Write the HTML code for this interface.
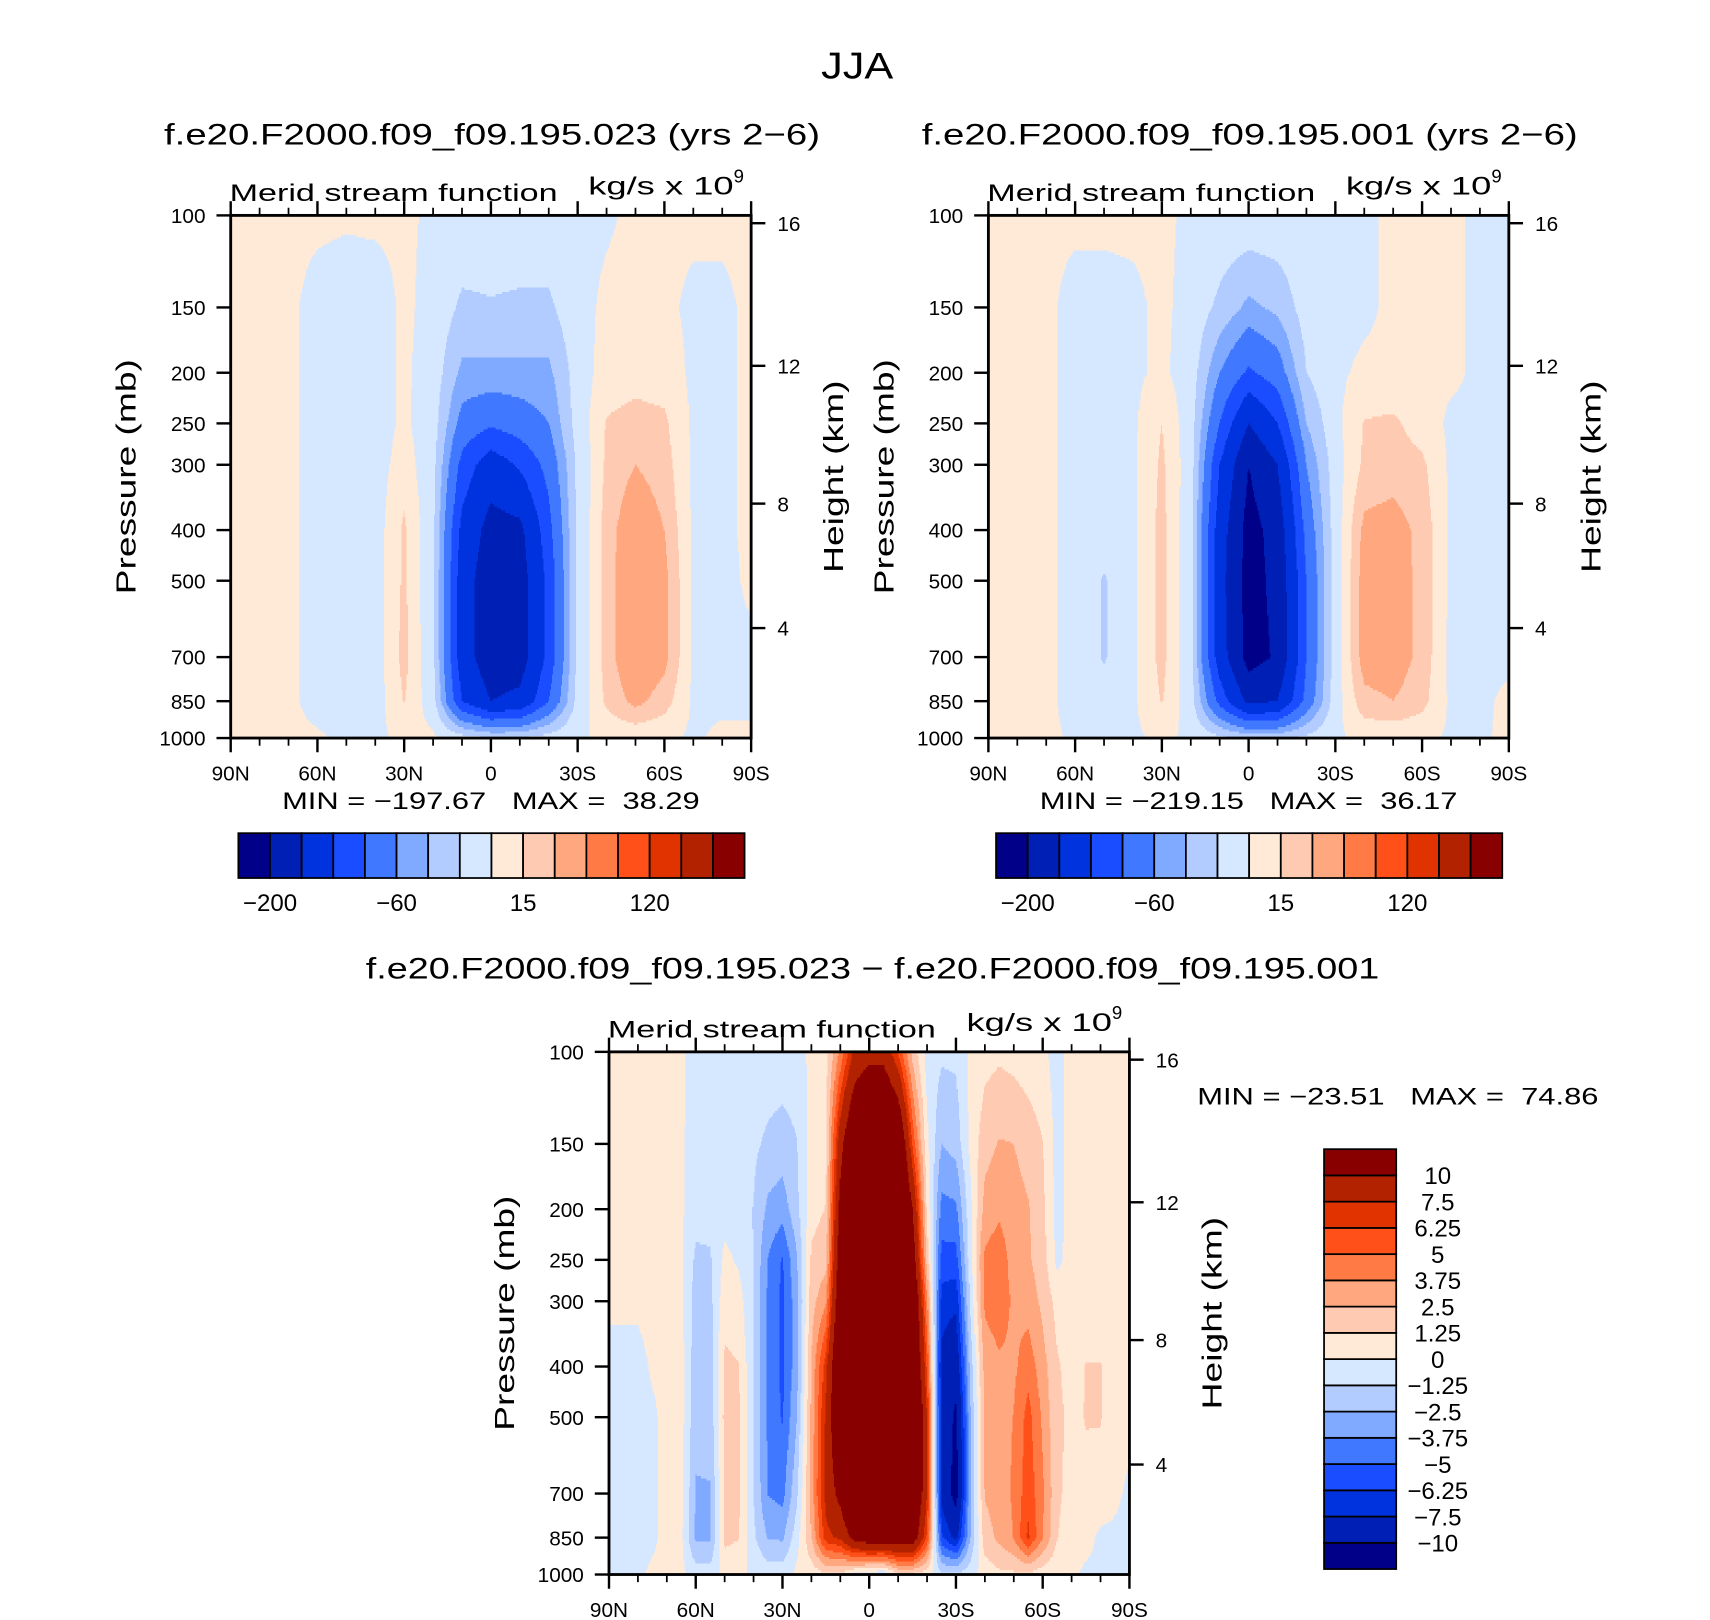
<!DOCTYPE html>
<html><head><meta charset="utf-8"><title>JJA Merid stream function</title>
<style>
html,body{margin:0;padding:0;background:#fff;}
svg{display:block;}
text{font-family:"Liberation Sans","DejaVu Sans",sans-serif;fill:#000;}
</style></head>
<body>
<svg id="fig" xmlns="http://www.w3.org/2000/svg" width="1710" height="1620" viewBox="0 0 1564 1481.6" preserveAspectRatio="none">
  <text x="784" y="72" font-size="34" text-anchor="middle" textLength="66" lengthAdjust="spacingAndGlyphs">JJA</text>
  <g id="panelA"></g>
  <g id="panelB"></g>
  <g id="panelC"></g>
</svg>
<script>
// ---------- data ----------
const PLEV = [100,150,200,250,300,400,500,700,850,1000];
const LAT10 = [90,80,70,60,50,40,30,20,10,0,-10,-20,-30,-40,-50,-60,-70,-80,-90];
const LAT5 = [90,85,80,75,70,65,60,55,50,45,40,35,30,25,20,15,10,5,0,-5,-10,-15,-20,-25,-30,-35,-40,-45,-50,-55,-60,-65,-70,-75,-80,-85,-90];
const LEVELS_AB = [-200,-160,-120,-90,-60,-40,-20,0,15,30,60,90,120,160,200];
const LEVELS_C = [-10,-7.5,-6.25,-5,-3.75,-2.5,-1.25,0,1.25,2.5,3.75,5,6.25,7.5,10];
const COLORS = ["#000088","#001fb5","#0033dd","#1a4dff","#4078ff","#80aaff","#b3ccff","#d6e8ff","#ffe9d7","#ffcab2","#ffa880","#ff7a45","#ff5019","#e03300","#b32200","#880000"];
const LABELS_AB = ["−200","−60","15","120"];
const LABEL_AB_IDX = [0,4,8,12];
const LABELS_C = ["−10","−7.5","−6.25","−5","−3.75","−2.5","−1.25","0","1.25","2.5","3.75","5","6.25","7.5","10"];
const PTICKS = [100,150,200,250,300,400,500,700,850,1000];
const HTICKS = [4,8,12,16];
const HTICK_P = [616,356,194,103.5];
const LAT_MAJOR = [90,60,30,0,-30,-60,-90];
const LAT_LABELS = ["90N","60N","30N","0","30S","60S","90S"];
const LAT_MINOR = [80,70,50,40,20,10,-10,-20,-40,-50,-70,-80];

// panel A (rows = pressure levels, cols = LAT10)
const psiA = [
 [3,3,3,3,2,3,3,-3,-5,-5,-5,-5,-5,-2,3,3,3,3,3],
 [3,3,3,-5,-8,-8,3,-5,-24,-22,-24,-24,-5,3,5,3,-3,-3,3],
 [3,3,3,-5,-8,-8,3,-8,-45,-45,-45,-45,-10,8,10,8,-3,-3,3],
 [3,3,3,-5,-8,-8,3,-10,-70,-85,-75,-60,-10,16,20,18,-3,-3,3],
 [3,3,3,-5,-8,-8,8,-12,-100,-140,-115,-80,-15,18,30,22,-3,-3,3],
 [3,3,3,-5,-8,-8,18,-15,-130,-175,-170,-100,-15,22,45,30,-3,-3,3],
 [3,3,3,-5,-8,-8,18,-15,-140,-185,-180,-110,-15,22,48,35,-3,-5,3],
 [3,3,3,-5,-8,-8,20,-15,-140,-185,-180,-110,-15,22,48,35,-3,-5,-3],
 [3,3,3,-5,-8,-8,16,-10,-120,-160,-150,-90,-12,18,35,22,-3,-3,-3],
 [3,3,3,2,-3,-3,3,3,-10,-20,-20,-10,-2,3,3,2,-2,3,3]
];
// panel B
const psiB = [
 [3,3,3,3,3,3,3,-3,-5,-5,-5,-5,-5,-3,3,3,3,-3,-3],
 [3,3,3,-5,-5,-3,3,-5,-25,-45,-35,-10,-5,-3,3,3,3,-3,-3],
 [3,3,3,-5,-5,-3,3,-8,-60,-95,-75,-20,-3,3,3,3,3,-3,-3],
 [3,3,3,-5,-5,-3,15,-10,-90,-160,-120,-40,-5,16,18,8,-3,-3,-3],
 [3,3,3,-5,-5,-3,18,-10,-120,-200,-160,-60,-8,18,22,18,-3,-3,-3],
 [3,3,3,-5,-10,-3,20,-12,-140,-215,-185,-80,-10,35,38,25,-3,-3,-3],
 [3,3,3,-5,-22,-3,20,-12,-145,-215,-190,-90,-10,38,40,25,-3,-3,-3],
 [3,3,3,-5,-22,-3,20,-12,-140,-215,-195,-90,-10,38,40,25,-5,-3,-3],
 [3,3,3,-5,-10,-3,16,-10,-100,-170,-160,-80,-8,25,30,20,-3,-3,3],
 [3,3,3,-2,-3,-2,2,-2,-15,-25,-25,-15,-2,3,3,3,-2,-2,3]
];
// panel C difference (one entry per LAT5 latitude, values at PLEV)
const diffByLat = [
 [0.5,0.5,0.5,0.5,0.3,-0.5,-0.5,-0.5,-0.5,-0.3],
 [0.5,0.5,0.5,0.5,0.3,-0.5,-0.5,-0.5,-0.5,-0.3],
 [0.5,0.5,0.5,0.5,0.3,-0.5,-0.5,-0.5,-0.5,-0.3],
 [0.5,0.5,0.5,0.5,0.5,0.2,-0.3,-0.3,-0.3,0.3],
 [0.5,0.5,0.5,0.5,0.5,0.5,0.5,0.5,0.5,0.3],
 [0.2,0.2,0.2,0.2,0.3,0.5,0.5,0.4,0.3,0.3],
 [-0.5,-0.6,-0.8,-1.5,-1.8,-2.0,-2.2,-2.6,-2.8,-0.6],
 [-0.5,-0.6,-0.8,-1.4,-1.6,-1.8,-2.0,-2.6,-2.7,-0.6],
 [-0.5,-0.6,-0.5,0.3,0.8,1.5,1.6,1.6,1.6,0.3],
 [-0.5,-0.6,-0.5,-0.2,0.5,1.3,1.4,1.4,1.3,0.3],
 [-0.5,-1.0,-1.3,-1.3,-1.3,-1.3,-1.3,-1.3,-1.0,-0.3],
 [-0.5,-1.5,-2.8,-3.8,-4,-4,-4,-3.8,-2.6,-0.5],
 [-0.5,-1.8,-3.2,-5.1,-5.3,-5.3,-5.1,-4.2,-2.7,-0.5],
 [-0.5,-1.3,-1.6,-2.6,-3,-3,-2.5,-1.5,-0.5,0.3],
 [0.3,0.5,0.8,1.5,2,2.6,2.8,3,2.5,0.5],
 [0.8,1,1.3,2,3.5,7,7.8,8,7,1],
 [4,9,11,12,13,14,14,11,7.8,1],
 [8,14,16,16,16,16,16,16,11,-0.5],
 [9,16,18,18,18,18,18,18,12,-1],
 [9,16,18,18,18,18,18,18,12,-1.3],
 [6,14,16,16,16,16,16,16,12,1],
 [2,6,10,12,14,15,16,15,12,1],
 [-0.5,0.3,1,2,4,6,7.5,7.5,6,0.5],
 [-1,-2.5,-4.2,-5.5,-6.8,-8,-8,-8,-6,-1],
 [-1,-2,-4,-5.5,-7.2,-9,-10.5,-11,-8,-1],
 [0.3,0.3,-0.3,-0.5,-1,-2,-2.6,-2.6,-2.5,-0.5],
 [0.8,2,3,4,4,3,2.8,2.6,2,0.5],
 [1,2.6,3.5,4.5,4.5,3.5,3.2,3,2.8,1],
 [0.8,2.5,3,3.2,3.5,3.5,3.8,4,3.8,1],
 [0.5,2,2.6,2.7,3.2,4.5,5.5,5.8,6.5,1],
 [0.3,1.3,1.6,1.8,2.2,3,3.5,4,3.8,0.5],
 [-0.5,-0.5,-0.5,-0.3,0.8,1.4,1.5,1.5,1.3,0.3],
 [0.5,0.5,0.5,0.5,0.6,0.8,1,0.8,0.5,0.3],
 [0.5,0.5,0.5,0.5,0.6,1.3,1.3,1,0.5,-0.3],
 [0.5,0.5,0.5,0.5,0.6,1.3,1.3,0.9,-0.3,-0.3],
 [0.5,0.5,0.5,0.5,0.5,0.8,0.7,0.3,-0.3,-0.3],
 [0.5,0.5,0.5,0.5,0.5,0.5,0.5,-0.3,-0.3,-0.3]
];

// ---------- helpers ----------
const NS = "http://www.w3.org/2000/svg";
function mk(tag, attrs, parent){
  const e = document.createElementNS(NS, tag);
  for (const k in attrs) e.setAttribute(k, attrs[k]);
  parent.appendChild(e);
  return e;
}
function yOfP(p, y0, h){ return y0 + h * (1 - Math.log10(1000 / p)); }
function xOfLat(lat, x0, w){ return x0 + (90 - lat) / 180 * w; }
function colorIndex(v, levels){ let c = 0; for (const l of levels) if (v >= l) c++; return c; }

function drawField(g, x0, y0, w, h, lats, rows, levels){
  const rowYs = PLEV.map(p => yOfP(p, y0, h));
  const dLat = lats[0] - lats[1];
  for (let py = 0; py < h; py += 2){
    const y = y0 + py + 1;
    let k = 0;
    while (k < rowYs.length - 2 && y > rowYs[k + 1]) k++;
    const t = Math.min(1, Math.max(0, (y - rowYs[k]) / (rowYs[k + 1] - rowYs[k])));
    let runStart = 0, runCol = -1;
    const flush = (endPx) => {
      if (runCol < 0) return;
      const r = mk("rect", {x: x0 + runStart, y: y0 + py, width: endPx - runStart + 0.4, height: 2.3, fill: COLORS[runCol]}, g);
      
      
    };
    for (let px = 0; px < w; px++){
      const lat = 90 - (px + 0.5) / w * 180;
      let fj = (lats[0] - lat) / dLat;
      let j = Math.min(lats.length - 2, Math.floor(fj));
      const s = fj - j;
      const v = (1 - t) * ((1 - s) * rows[k][j] + s * rows[k][j + 1]) + t * ((1 - s) * rows[k + 1][j] + s * rows[k + 1][j + 1]);
      const ci = colorIndex(v, levels);
      if (ci !== runCol){ flush(px); runStart = px; runCol = ci; }
    }
    flush(w);
  }
}

function drawAxes(g, x0, y0, w, h){
  PTICKS.forEach(p => {
    const y = yOfP(p, y0, h);
    const l = mk("line", {x1: x0 - 13, x2: x0, y1: y, y2: y, stroke: "#000", "stroke-width": 2.2}, g);
    
    
    const t = mk("text", {x: x0 - 23, y: y + 7, "font-size": 19, "text-anchor": "end"}, g);
    t.textContent = String(p);
    
    
  });
  HTICKS.forEach((z, i) => {
    const y = yOfP(HTICK_P[i], y0, h);
    const l = mk("line", {x1: x0 + w, x2: x0 + w + 13, y1: y, y2: y, stroke: "#000", "stroke-width": 2.2}, g);
    
    
    const t = mk("text", {x: x0 + w + 24, y: y + 7, "font-size": 19}, g);
    t.textContent = String(z);
    
    
  });
  LAT_MAJOR.forEach((lat, i) => {
    const x = xOfLat(lat, x0, w);
    const a = mk("line", {x1: x, x2: x, y1: y0 + h, y2: y0 + h + 13, stroke: "#000", "stroke-width": 2.2}, g);
    
    
    const b = mk("line", {x1: x, x2: x, y1: y0, y2: y0 - 13, stroke: "#000", "stroke-width": 2.2}, g);
    
    
    const t = mk("text", {x: x, y: y0 + h + 39, "font-size": 19, "text-anchor": "middle"}, g);
    t.textContent = LAT_LABELS[i];
    
    
  });
  LAT_MINOR.forEach(lat => {
    const x = xOfLat(lat, x0, w);
    const a = mk("line", {x1: x, x2: x, y1: y0 + h, y2: y0 + h + 7, stroke: "#000", "stroke-width": 1.6}, g);
    
    
    const b = mk("line", {x1: x, x2: x, y1: y0, y2: y0 - 7, stroke: "#000", "stroke-width": 1.6}, g);
    
    
  });
  const fr = mk("rect", {x: x0, y: y0, width: w, height: h, fill: "none", stroke: "#000", "stroke-width": 2.6}, g);
  
  
  const pt = mk("text", {x: 0, y: 0, "font-size": 25, "text-anchor": "middle", textLength: 215, lengthAdjust: "spacingAndGlyphs", transform: `translate(${x0 - 87},${y0 + h * 0.5}) rotate(-90)`}, g);
  pt.textContent = "Pressure  (mb)";
  
  
  const ht = mk("text", {x: 0, y: 0, "font-size": 25, "text-anchor": "middle", textLength: 176, lengthAdjust: "spacingAndGlyphs", transform: `translate(${x0 + w + 84},${y0 + h * 0.5}) rotate(-90)`}, g);
  ht.textContent = "Height  (km)";
  
  
}

function drawHeader(g, x0, y0, title, cx, ty, tlen){
  const t = mk("text", {x: cx, y: ty, "font-size": 27, "text-anchor": "middle", textLength: tlen, lengthAdjust: "spacingAndGlyphs"}, g);
  t.textContent = title;
  
  
  const m = mk("text", {x: x0 - 1, y: y0 - 13, "font-size": 22, textLength: 300, lengthAdjust: "spacingAndGlyphs"}, g);
  m.textContent = "Merid  stream  function";
  
  
  const u = mk("text", {x: x0 + 327, y: y0 - 19, "font-size": 23}, g);
  
  
  const s1 = mk("tspan", {textLength: 133, lengthAdjust: "spacingAndGlyphs"}, u);
  s1.textContent = "kg/s  x  10";
  const s = mk("tspan", {dy: -11, "font-size": 17}, u);
  s.textContent = "9";
}

function drawHBar(g, x0, y0, w, h){
  const bw = w / COLORS.length;
  COLORS.forEach((c, i) => {
    const r = mk("rect", {x: x0 + i * bw, y: y0, width: bw, height: h, fill: c, stroke: "#000", "stroke-width": 1.6}, g);
    
    
  });
  LABEL_AB_IDX.forEach((bi, i) => {
    const t = mk("text", {x: x0 + (bi + 1) * bw, y: y0 + h + 30, "font-size": 22, "text-anchor": "middle"}, g);
    t.textContent = LABELS_AB[i];
    
    
  });
}

// ---------- panels ----------
const W = 476, H = 478;
function panel(id, x0, y0, rows, lats, levels, title, tcx, tty, tlen){
  const g = document.getElementById(id);
  const fg = mk("g", {"shape-rendering": "crispEdges"}, g);
  
  
  drawField(fg, x0, y0, W, H, lats, rows, levels);
  drawAxes(g, x0, y0, W, H);
  drawHeader(g, x0, y0, title, tcx, tty, tlen);
  return g;
}
const gA = panel("panelA", 211, 197, psiA, LAT10, LEVELS_AB, "f.e20.F2000.f09_f09.195.023 (yrs 2−6)", 450, 132, 600);
const gB = panel("panelB", 904, 197, psiB, LAT10, LEVELS_AB, "f.e20.F2000.f09_f09.195.001 (yrs 2−6)", 1143, 132, 600);
const rowsC = PLEV.map((p, k) => diffByLat.map(col => col[k]));
const gC = panel("panelC", 557, 962, rowsC, LAT5, LEVELS_C, "f.e20.F2000.f09_f09.195.023 − f.e20.F2000.f09_f09.195.001", 798, 895, 927);

[[gA, 258, 740, "MIN = −197.67   MAX =  38.29", 382],[gB, 951, 740, "MIN = −219.15   MAX =  36.17", 382],[gC, 1095, 1010, "MIN = −23.51   MAX =  74.86", 367]].forEach(a => {
  const t = mk("text", {x: a[1], y: a[2], "font-size": 22, textLength: a[4], lengthAdjust: "spacingAndGlyphs"}, a[0]);
  t.setAttribute("style", "white-space:pre");
  t.textContent = a[3];
  
  
});

const cbA = mk("g", {}, gA);


drawHBar(cbA, 218, 762, 463, 41);
const cbB = mk("g", {}, gB);


drawHBar(cbB, 911, 762, 463, 41);

const cbC = mk("g", {}, gC);


const vbh = 384 / COLORS.length;
COLORS.forEach((c, i) => {
  const r = mk("rect", {x: 1211, y: 1051 + (COLORS.length - 1 - i) * vbh, width: 66, height: vbh, fill: c, stroke: "#000", "stroke-width": 1.6}, cbC);
  
  
});
LABELS_C.forEach((lab, i) => {
  const y = 1051 + (COLORS.length - 1 - i) * vbh;
  const t = mk("text", {x: 1315, y: y + 8, "font-size": 22, "text-anchor": "middle"}, cbC);
  t.textContent = lab;
  
  
});
</script>
</body></html>
